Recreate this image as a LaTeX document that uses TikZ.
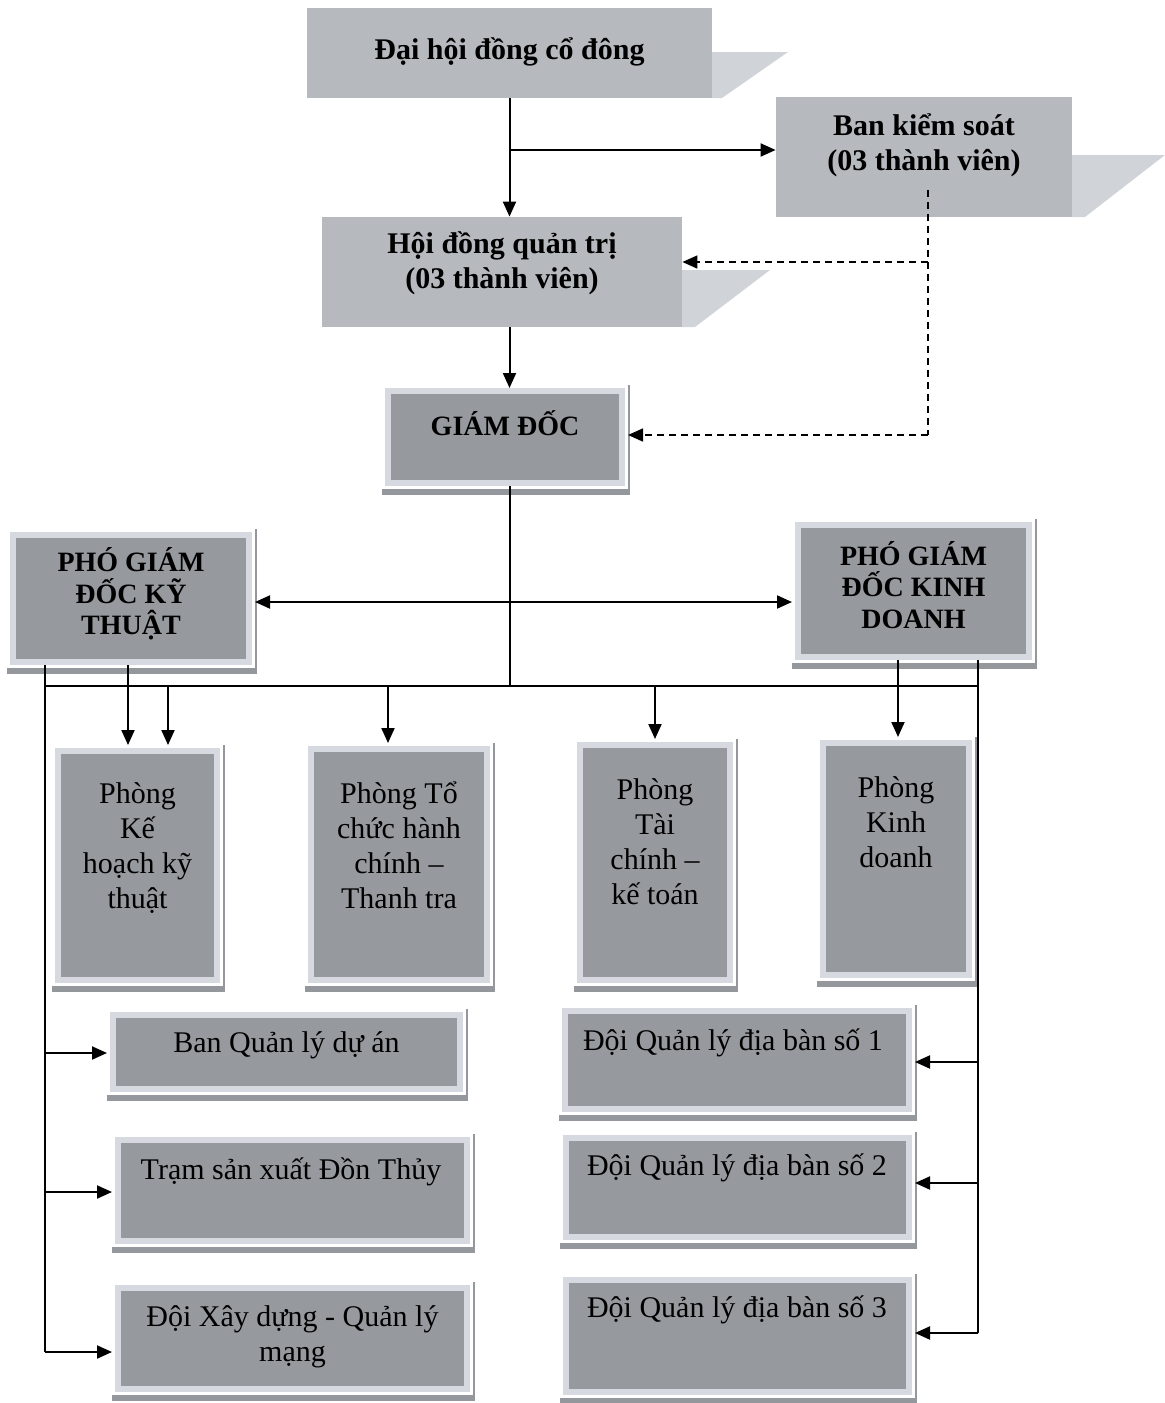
\documentclass[tikz,border=0pt]{standalone}
\usepackage{fontspec}
\setmainfont{Liberation Serif}
\usetikzlibrary{arrows.meta}
\definecolor{topfill}{RGB}{182,186,190}
\definecolor{topshadow}{RGB}{208,212,217}
\definecolor{framecol}{RGB}{214,218,224}
\definecolor{innercol}{RGB}{150,154,158}
\definecolor{stripcol}{RGB}{148,152,157}
\tikzset{
  topbox/.style={fill=topfill, draw=none, inner sep=0pt},
  fbox/.style={fill=innercol, draw=framecol, line width=3pt, inner sep=0pt},
  shadowfill/.style={fill=topshadow, draw=none},
  btext/.style={font=\bfseries\fontsize{15}{17.5}\selectfont, align=center, inner sep=0pt},
  htext/.style={font=\bfseries\fontsize{14}{15.75}\selectfont, align=center, inner sep=0pt},
  rtext/.style={font=\fontsize{15}{17.5}\selectfont, align=center, inner sep=0pt},
  ln/.style={draw=black, line width=1pt},
  arr/.style={draw=black, line width=1pt, -{Triangle[length=7.5pt,width=6.5pt]}},
  darr/.style={draw=black, line width=1pt, {Triangle[length=7.5pt,width=6.5pt]}-{Triangle[length=7.5pt,width=6.5pt]}},
  dsh/.style={draw=black, line width=0.8pt, dash pattern=on 3.5pt off 2.5pt},
  dsharr/.style={dsh, -{Triangle[length=7.5pt,width=6.5pt]}},
}
\begin{document}
\begin{tikzpicture}[x=0.5pt,y=-0.5pt]
\useasboundingbox (0,0) rectangle (1165,1403);
% shadows of top boxes
\fill[shadowfill] (712,52) -- (788,52) -- (722,98) -- (712,98) -- cycle;
\fill[shadowfill] (1072,155) -- (1165,155) -- (1085,217) -- (1072,217) -- cycle;
\fill[shadowfill] (682,270) -- (770,270) -- (695,327) -- (682,327) -- cycle;
% top boxes
\node[topbox, minimum width=202.5pt, minimum height=45pt] (dh) at (509.5,53) {};
\node[topbox, minimum width=148pt, minimum height=60pt] (bks) at (924,157) {};
\node[topbox, minimum width=180pt, minimum height=55pt] (hdqt) at (502,272) {};
% framed boxes
\node[fbox, minimum width=117pt, minimum height=46pt] (gd) at (505,437) {};
\node[fbox, minimum width=118pt, minimum height=63.5pt] (pkt) at (131,598.5) {};
\node[fbox, minimum width=115.5pt, minimum height=66pt] (pkd) at (913.5,591) {};
\node[fbox, minimum width=79.5pt, minimum height=114.5pt] (p1) at (137.5,865.5) {};
\node[fbox, minimum width=88pt, minimum height=115.5pt] (p2) at (399,864.5) {};
\node[fbox, minimum width=75pt, minimum height=117.5pt] (p3) at (655,862.5) {};
\node[fbox, minimum width=73pt, minimum height=116pt] (p4) at (896,859) {};
\node[fbox, minimum width=173.5pt, minimum height=37pt] (b1) at (286.5,1052) {};
\node[fbox, minimum width=174.5pt, minimum height=50.5pt] (b2) at (292.5,1190.5) {};
\node[fbox, minimum width=174.5pt, minimum height=50.5pt] (b3) at (292.5,1338) {};
\node[fbox, minimum width=172pt, minimum height=49pt] (r1) at (737,1060) {};
\node[fbox, minimum width=171.5pt, minimum height=49.5pt] (r2) at (737.5,1187.5) {};
\node[fbox, minimum width=171.5pt, minimum height=56pt] (r3) at (737.5,1336) {};
% bottom and right strips
\foreach \n in {gd,pkt,pkd,p1,p2,p3,p4,b1,b2,b3,r1,r2,r3}{
  \fill[stripcol] ([xshift=-1.5pt,yshift=-1.5pt]\n.south west) rectangle ([xshift=1.5pt,yshift=-4.5pt]\n.south east);
  \fill[stripcol] ([xshift=1.5pt,yshift=1.5pt]\n.north east) rectangle ([xshift=2.3pt,yshift=-4.5pt]\n.south east);
}
% texts
\node[btext] (tdh) at (509.5,52) {Đại hội đồng cổ đông};
\node[btext] (tbks) at (924,145) {Ban kiểm soát\\(03 thành viên)};
\node[btext] (thdqt) at (502,263) {Hội đồng quản trị\\(03 thành viên)};
\node[htext] (tgd) at (505,423) {GIÁM ĐỐC};
\node[htext] (tpkt) at (131,594) {PHÓ GIÁM\\ĐỐC KỸ\\THUẬT};
\node[htext] (tpkd) at (913.5,585) {PHÓ GIÁM\\ĐỐC KINH\\DOANH};
\node[rtext] (tp1) at (137.5,848) {Phòng\\Kế\\hoạch kỹ\\thuật};
\node[rtext] (tp2) at (399,845) {Phòng Tổ\\chức hành\\chính –\\Thanh tra};
\node[rtext] (tp3) at (655,842) {Phòng\\Tài\\chính –\\kế toán};
\node[rtext] (tp4) at (896,822) {Phòng\\Kinh\\doanh};
\node[rtext] (tb1) at (286.5,1045) {Ban Quản lý dự án};
\node[rtext] (tb2) at (291,1172) {Trạm sản xuất Đồn Thủy};
\node[rtext] (tb3) at (292.5,1337) {Đội Xây dựng - Quản lý\\mạng};
\node[rtext] (tr1) at (733,1043) {Đội Quản lý địa bàn số 1};
\node[rtext] (tr2) at (737,1168) {Đội Quản lý địa bàn số 2};
\node[rtext] (tr3) at (737,1310) {Đội Quản lý địa bàn số 3};
% coordinates
\coordinate (j1) at (509.5,150);
\coordinate (d0) at (928,190);
\coordinate (d1) at (928,262);
\coordinate (d2) at (928,435);
\coordinate (busL) at (45,686);
\coordinate (busR) at (978,686);
\coordinate (hx) at (250,602);
\coordinate (l1) at (45,1053);
\coordinate (l2) at (45,1192);
\coordinate (l3) at (45,1352);
\coordinate (q1) at (978,1062);
\coordinate (q2) at (978,1183);
\coordinate (q3) at (978,1333);
\coordinate (k1) at (128,0);
\coordinate (k2) at (168,0);
\coordinate (k3) at (388,0);
\coordinate (k4) at (655,0);
\coordinate (k5) at (898,0);
\coordinate (kg) at (510,0);
% connectors
\draw[arr] (dh.south) -- (dh.south |- hdqt.north);
\draw[arr] (j1) -- (j1 -| bks.west);
\draw[arr] (dh.south |- hdqt.south) -- (dh.south |- gd.north);
\draw[dsh] (d0) -- (d2);
\draw[dsharr] (d1) -- (d1 -| hdqt.east);
\draw[dsharr] (d2) -- ([xshift=1.5pt]d2 -| gd.east);
\draw[ln] (gd.south -| kg) -- (busL -| kg);
\draw[darr] ([xshift=1.5pt]hx -| pkt.east) -- ([xshift=-1.5pt]hx -| pkd.west);
\draw[ln] (busL) -- (busR);
\draw[ln] (pkt.south -| busL) -- (l3);
\draw[ln] (pkd.south -| busR) -- (q3);
\draw[arr] (l1) -- ([xshift=-1.5pt]l1 -| b1.west);
\draw[arr] (l2) -- ([xshift=-1.5pt]l2 -| b2.west);
\draw[arr] (l3) -- ([xshift=-1.5pt]l3 -| b3.west);
\draw[arr] (q1) -- ([xshift=1.5pt]q1 -| r1.east);
\draw[arr] (q2) -- ([xshift=1.5pt]q2 -| r2.east);
\draw[arr] (q3) -- ([xshift=1.5pt]q3 -| r3.east);
\draw[arr] (pkt.south -| k1) -- ([yshift=1.5pt]p1.north -| k1);
\draw[arr] (busL -| k2) -- ([yshift=1.5pt]p1.north -| k2);
\draw[arr] (busL -| k3) -- ([yshift=1.5pt]p2.north -| k3);
\draw[arr] (busL -| k4) -- ([yshift=1.5pt]p3.north -| k4);
\draw[arr] (pkd.south -| k5) -- ([yshift=1.5pt]p4.north -| k5);
\end{tikzpicture}
\end{document}
